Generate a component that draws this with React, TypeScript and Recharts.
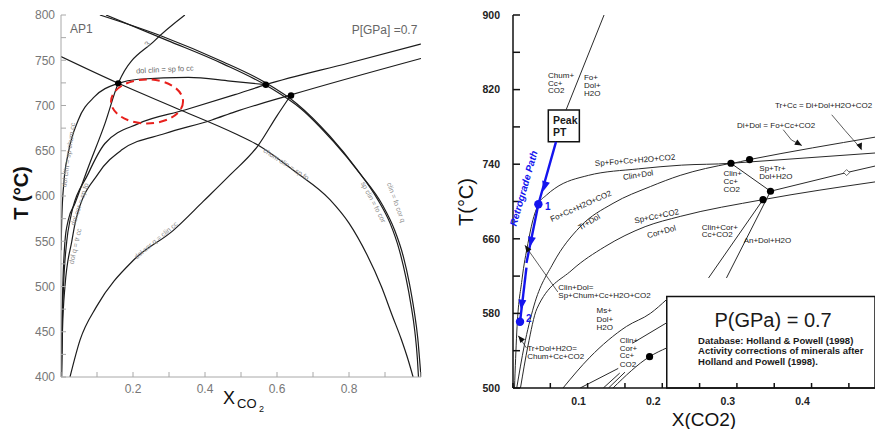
import React from 'react';
import { LineChart, Line, XAxis, YAxis, ReferenceDot, ReferenceArea, ReferenceLine } from 'recharts';

const FONT = '"Liberation Sans", Arial, Helvetica, sans-serif';

// ---------- left panel: T–XCO2 section "AP1" ----------
const leftXTicks = [0, 0.1, 0.2, 0.3, 0.4, 0.5, 0.6, 0.7, 0.8, 0.9, 1];
const leftXLabels = [0.2, 0.4, 0.6, 0.8];
const leftTTicks = [400, 425, 450, 475, 500, 525, 550, 575, 600, 625, 650, 675, 700, 725, 750, 775, 800];
const leftTLabels = [400, 450, 500, 550, 600, 650, 700, 750, 800];

// each curve: [XCO2, T]
const chumClinLine = [[0, 754], [0.159, 724.5], [0.32, 697], [0.483, 669], [0.548, 656], [0.65, 627], [0.747, 596], [0.8, 570], [0.85, 535], [0.89, 500], [0.92, 468], [0.945, 442], [0.965, 418], [0.978, 400]];
const steepLine = [[0.0005, 400], [0.002, 450], [0.005, 500], [0.011, 550], [0.02, 573], [0.039, 592], [0.076, 632], [0.122, 680], [0.159, 724.5], [0.261, 772], [0.344, 800]];
const dolClinCurve = [[0, 540], [0.002, 573], [0.008, 615], [0.02, 647], [0.048, 684], [0.094, 710], [0.159, 724.5], [0.215, 729], [0.354, 731], [0.47, 727], [0.569, 723]];
const risingCurve1 = [[0.001, 400], [0.003, 450], [0.007, 500], [0.016, 550], [0.025, 573], [0.076, 625], [0.122, 658], [0.215, 680], [0.344, 695], [0.483, 712], [0.569, 723], [0.8, 747], [1, 768]];
const risingCurve2 = [[0.002, 400], [0.004, 450], [0.011, 500], [0.03, 550], [0.041, 573], [0.104, 625], [0.169, 651], [0.289, 669], [0.419, 684], [0.483, 693], [0.641, 712], [1, 752]];
const dolCorQCurve = [[0.025, 400], [0.053, 441], [0.099, 478], [0.201, 529], [0.312, 562], [0.395, 594], [0.469, 623], [0.548, 656], [0.599, 688], [0.636, 710]];
const outerArc = [[0.108, 800], [0.284, 776], [0.44, 750], [0.569, 725], [0.655, 702], [0.747, 666], [0.821, 630], [0.88, 596], [0.914, 570], [0.94, 540], [0.958, 510], [0.972, 480], [0.983, 450], [0.99, 420], [0.993, 400]];
const innerArc = [[0.125, 800], [0.295, 772], [0.45, 746], [0.58, 720], [0.665, 697], [0.757, 660], [0.832, 624], [0.893, 590], [0.926, 563], [0.951, 533], [0.968, 503], [0.981, 473], [0.991, 443], [0.997, 415], [1, 400]];
const leftInvariantPts = [[0.159, 724.5], [0.569, 723], [0.639, 711]];

const leftCurves = [chumClinLine, steepLine, dolClinCurve, risingCurve1, risingCurve2, dolCorQCurve, outerArc, innerArc];

// ---------- right panel: T–X(CO2) section, P = 0.7 GPa ----------
const rightXTicks = [0, 0.05, 0.1, 0.15, 0.2, 0.25, 0.3, 0.35, 0.4, 0.45];
const rightXLabels = [0.1, 0.2, 0.3, 0.4];
const rightTTicks = [500, 540, 580, 620, 660, 700, 740, 780, 820, 860, 900];
const rightTLabels = [500, 580, 660, 740, 820, 900];

const chumFoLine = [[0.071, 798], [0.122, 900]];
const clinDolCurve = [[0.002, 500], [0.005, 559], [0.012, 616], [0.02, 655], [0.026, 678], [0.034, 697], [0.045, 707], [0.056, 714], [0.101, 728], [0.168, 735], [0.226, 739], [0.292, 741], [0.317, 745], [0.485, 769]];
const trDolCurve = [[0.005, 500], [0.015, 545], [0.028, 588], [0.054, 634], [0.09, 673], [0.134, 698], [0.184, 716], [0.224, 728], [0.292, 741]];
const trCcLine = [[0.292, 741], [0.485, 752]];
const corDolCurve = [[0.01, 500], [0.02, 545], [0.032, 585], [0.079, 626.5], [0.123, 651.5], [0.177, 673], [0.224, 684], [0.335, 702], [0.485, 721]];
const spTrLine = [[0.292, 741], [0.345, 711]];
const dot3Line = [[0.345, 711], [0.447, 731], [0.485, 738]];
const anDolLine = [[0.286, 618], [0.345, 711]];
const clinCorLine = [[0.262, 618], [0.335, 702]];
const msCurve = [[0.067, 500], [0.103, 533], [0.152, 566], [0.184, 580], [0.206, 595]];
const shortLineA = [[0.09, 500], [0.141, 521]];
const shortLineB = [[0.121, 500], [0.143, 516]];
const shortLineC = [[0.128, 500], [0.15, 517]];
const dotLine = [[0.134, 500], [0.183, 533.6], [0.206, 543]];
const upperShort = [[0.16, 548], [0.206, 570]];
const rightInvariantPts = [[0.292, 741], [0.317, 745], [0.345, 711], [0.335, 702], [0.183, 533.6]];

const rightCurves = [chumFoLine, clinDolCurve, trDolCurve, trCcLine, corDolCurve, spTrLine, dot3Line, anDolLine, clinCorLine, msCurve, shortLineA, shortLineB, shortLineC, dotLine, upperShort];
const straightSet = new Set([chumFoLine, trCcLine, spTrLine, dot3Line, anDolLine, clinCorLine, shortLineA, shortLineB, shortLineC, upperShort]);

// retrograde P–T path
const retroUpper = [[0.018, 634], [0.034, 697], [0.0576, 764]];
const retroLower = [[0.0094, 571], [0.018, 629]];
const retroPoints = [[0.034, 697], [0.0094, 571]];

const toPts = (rows: number[][]) => rows.map(([x, t]) => ({ x, t }));

type Note = {
  x: number; t: number; text: string; rot?: number; size?: number;
  anchor?: 'start' | 'middle' | 'end'; color?: string; bold?: boolean; italic?: boolean;
};

const GRAY = '#8a8a8a';
const leftNotes: Note[] = [
  { x: 0.025, t: 780, text: 'AP1', size: 12, color: '#666' },
  { x: 0.99, t: 779, text: 'P[GPa] =0.7', size: 12, color: '#666', anchor: 'end' },
  { x: 0.242, t: 764, text: '3', size: 8, rot: -50, color: GRAY },
  { x: 0.289, t: 737, text: 'dol clin = sp fo cc', size: 7.5, rot: -3, color: '#6a6a6a', anchor: 'middle' },
  { x: 0.027, t: 645, text: 'dol clin = sp chum cc', size: 7, rot: -82, color: GRAY, anchor: 'middle' },
  { x: 0.058, t: 590, text: 'dol cor = sp fo', size: 7, rot: -72, color: GRAY, anchor: 'middle' },
  { x: 0.046, t: 544, text: 'dol q = tr cc', size: 7, rot: -77, color: GRAY, anchor: 'middle' },
  { x: 0.268, t: 549, text: 'dol cor q = clin cc', size: 7, rot: -40, color: GRAY, anchor: 'middle' },
  { x: 0.622, t: 633, text: 'chum clin = sp fo', size: 7, rot: 33, color: GRAY, anchor: 'middle' },
  { x: 0.862, t: 592, text: 'sp clin = fo cor', size: 7, rot: 62, color: GRAY, anchor: 'middle' },
  { x: 0.925, t: 592, text: 'clin = fo cor q', size: 7, rot: 70, color: GRAY, anchor: 'middle' },
];

const INK = '#1a1a1a';
const BLUE = '#1414ee';
const rightNotes: Note[] = [
  { x: 0.047, t: 832, text: 'Chum+' }, { x: 0.047, t: 824, text: 'Cc+' }, { x: 0.047, t: 816, text: 'CO2' },
  { x: 0.095, t: 830, text: 'Fo+' }, { x: 0.095, t: 822, text: 'Dol+' }, { x: 0.095, t: 813, text: 'H2O' },
  { x: 0.0536, t: 783, text: 'Peak', size: 10.5, bold: true },
  { x: 0.0536, t: 770, text: 'PT', size: 10.5, bold: true },
  { x: 0.11, t: 738, text: 'Sp+Fo+Cc+H2O+CO2', rot: -4.5 },
  { x: 0.148, t: 723, text: 'Clin+Dol', rot: -9 },
  { x: 0.052, t: 678, text: 'Fo+Cc+H2O+CO2', rot: -24 },
  { x: 0.09, t: 669, text: 'Tr+Dol', rot: -31 },
  { x: 0.1635, t: 676.5, text: 'Sp+Cc+CO2', rot: -12 },
  { x: 0.181, t: 660.5, text: 'Cor+Dol', rot: -16 },
  { x: 0.0607, t: 605, text: 'Clin+Dol=' },
  { x: 0.0607, t: 596, text: 'Sp+Chum+Cc+H2O+CO2' },
  { x: 0.112, t: 580, text: 'Ms+' }, { x: 0.112, t: 571, text: 'Dol+' }, { x: 0.112, t: 562, text: 'H2O' },
  { x: 0.019, t: 540, text: 'Tr+Dol+H2O=' },
  { x: 0.019, t: 531, text: 'Chum+Cc+CO2' },
  { x: 0.143, t: 548, text: 'Clin+' }, { x: 0.143, t: 540, text: 'Cor+' }, { x: 0.143, t: 532, text: 'Cc+' }, { x: 0.143, t: 523, text: 'CO2' },
  { x: 0.282, t: 727, text: 'Clin+' }, { x: 0.282, t: 719, text: 'Cc+' }, { x: 0.282, t: 710, text: 'CO2' },
  { x: 0.33, t: 733, text: 'Sp+Tr+' }, { x: 0.33, t: 724, text: 'Dol+H2O' },
  { x: 0.3, t: 779, text: 'Di+Dol = Fo+Cc+CO2' },
  { x: 0.351, t: 800, text: 'Tr+Cc = Di+Dol+H2O+CO2' },
  { x: 0.253, t: 669.5, text: 'Clin+Cor+' }, { x: 0.253, t: 661.5, text: 'Cc+CO2' },
  { x: 0.309, t: 656, text: 'An+Dol+H2O' },
  { x: 0.3485, t: 565, text: 'P(GPa) = 0.7', size: 20, anchor: 'middle' },
  { x: 0.248, t: 547, text: 'Database: Holland & Powell (1998)', size: 9.5, bold: true },
  { x: 0.248, t: 536, text: 'Activity corrections of minerals after', size: 9.5, bold: true },
  { x: 0.248, t: 525, text: 'Holland and Powell (1998).', size: 9.5, bold: true },
  { x: 0.0188, t: 713, text: 'Retrograde Path', size: 10, rot: -74, color: BLUE, bold: true, italic: true, anchor: 'middle' },
  { x: 0.043, t: 691, text: '1', size: 10, color: BLUE, bold: true },
  { x: 0.0174, t: 571, text: '2', size: 10, color: BLUE, bold: true },
];

// pointer lines [x1, t1, x2, t2]
const pointerSegs = [
  [0.016, 653, 0.06, 603],
  [0.007, 556, 0.018, 543],
  [0.362, 777, 0.373, 766],
  [0.373, 766, 0.387, 760],
  [0.427, 793, 0.445, 776],
  [0.445, 776, 0.467, 756],
];
// arrowheads [x, t, angle in degrees on screen]
const blueHeads = [[0.0406, 711, 106], [0.0228, 651.5, 101], [0.0107, 584, 98]];
const blackHeads = [[0.016, 653, -125], [0.007, 556, -130], [0.387, 760, 30], [0.467, 755, 70]];

const noteShape = (n: Note) => (props: any) => (
  <text
    x={props.cx}
    y={props.cy}
    transform={n.rot ? `rotate(${n.rot} ${props.cx} ${props.cy})` : undefined}
    textAnchor={n.anchor ?? 'start'}
    fontSize={n.size ?? 8}
    fill={n.color ?? INK}
    fontFamily={FONT}
    fontWeight={n.bold ? 'bold' : 'normal'}
    fontStyle={n.italic ? 'italic' : 'normal'}
  >
    {n.text}
  </text>
);

const headShape = (angle: number, color: string, len: number, half: number) => (props: any) => (
  <polygon
    points={`0,0 ${-len},${-half} ${-len},${half}`}
    fill={color}
    transform={`translate(${props.cx} ${props.cy}) rotate(${angle})`}
  />
);

const ellipseShape = (props: any) => (
  <ellipse cx={props.cx} cy={props.cy} rx={36} ry={22} fill="none" stroke="#e8201c" strokeWidth={2} strokeDasharray="8 5" />
);

const diamondShape = (props: any) => (
  <polygon
    points={`${props.cx},${props.cy - 3} ${props.cx + 3},${props.cy} ${props.cx},${props.cy + 3} ${props.cx - 3},${props.cy}`}
    fill="#fff"
    stroke="#444"
    strokeWidth={0.8}
  />
);

const RightXTick = (props: any) => {
  const { x, y, payload } = props;
  if (!rightXLabels.includes(payload.value)) return <g />;
  return (
    <text x={x - 9} y={y} dy="0.71em" textAnchor="middle" fontSize={10.5} fontWeight="bold" fill="#222" fontFamily={FONT}>
      {payload.value}
    </text>
  );
};

export default function App() {
  const leftTick = { fill: '#777', fontSize: 12, fontFamily: FONT };
  const rightTick = { fill: '#222', fontSize: 10.5, fontWeight: 'bold', fontFamily: FONT };
  const blank = () => '';

  return (
    <div style={{ position: 'absolute', left: 0, top: 0, width: 875, height: 429, background: '#fff', overflow: 'hidden' }}>
      {/* left panel */}
      <div style={{ position: 'absolute', left: 0, top: 0 }}>
        <LineChart width={430} height={429} margin={{ top: 15, right: 9, bottom: 0, left: 0 }}>
          <XAxis dataKey="x" type="number" domain={[0, 1]} ticks={leftXTicks} interval={0} allowDataOverflow
            height={52} tickSize={-5} tickMargin={12} stroke="#a8a8a8" tick={leftTick}
            tickFormatter={(v: number) => (leftXLabels.includes(v) ? String(v) : '')} />
          <XAxis xAxisId="top" orientation="top" dataKey="x" type="number" domain={[0, 1]} ticks={leftXTicks} interval={0}
            allowDataOverflow height={0} tickSize={-5} stroke="#bdbdbd" tickFormatter={blank} />
          <YAxis type="number" domain={[400, 800]} ticks={leftTTicks} interval={0} allowDataOverflow width={61}
            tickSize={-5} tickMargin={11} stroke="#a8a8a8" tick={leftTick}
            tickFormatter={(v: number) => (leftTLabels.includes(v) ? String(v) : '')} />
          <YAxis yAxisId="right" orientation="right" type="number" domain={[400, 800]} ticks={leftTTicks} interval={0}
            allowDataOverflow width={0} tickSize={-5} stroke="#bdbdbd" tickFormatter={blank} />
          {leftCurves.map((c, i) => (
            <Line key={`l${i}`} data={toPts(c)} dataKey="t" type="monotone" stroke="#1c1c1c" strokeWidth={1.2}
              dot={false} activeDot={false} isAnimationActive={false} />
          ))}
          {leftInvariantPts.map(([x, t], i) => (
            <ReferenceDot key={`lp${i}`} x={x} y={t} r={3.2} fill="#000" stroke="none" />
          ))}
          <ReferenceDot x={0.239} y={704.5} r={0} shape={ellipseShape} />
          {leftNotes.map((n, i) => (
            <ReferenceDot key={`ln${i}`} x={n.x} y={n.t} r={0} shape={noteShape(n)} />
          ))}
        </LineChart>
      </div>

      {/* right panel */}
      <div style={{ position: 'absolute', left: 440, top: 0 }}>
        <LineChart width={435} height={429} margin={{ top: 15, right: 0, bottom: 0, left: 0 }}>
          <XAxis dataKey="x" type="number" domain={[0, 0.485]} ticks={rightXTicks} interval={0} allowDataOverflow
            height={41} tickSize={-5} tickMargin={15} stroke="#111" strokeWidth={1.5} tick={<RightXTick />} />
          <XAxis xAxisId="top" orientation="top" dataKey="x" type="number" domain={[0, 0.485]} ticks={rightXTicks}
            interval={0} allowDataOverflow height={0} tickSize={-6} stroke="#111" strokeWidth={1.5} tickFormatter={blank} />
          <YAxis type="number" domain={[500, 900]} ticks={rightTTicks} interval={0} allowDataOverflow width={73}
            tickSize={-7} tickMargin={20} stroke="#111" strokeWidth={1.5} tick={rightTick}
            tickFormatter={(v: number) => (rightTLabels.includes(v) ? String(v) : '')} />
          {rightCurves.map((c, i) => (
            <Line key={`r${i}`} data={toPts(c)} dataKey="t" type={straightSet.has(c) ? 'linear' : 'monotone'}
              stroke="#2a2a2a" strokeWidth={1} dot={false} activeDot={false} isAnimationActive={false} />
          ))}
          {[retroUpper, retroLower].map((c, i) => (
            <Line key={`b${i}`} data={toPts(c)} dataKey="t" type="linear" stroke={BLUE} strokeWidth={2.4}
              dot={false} activeDot={false} isAnimationActive={false} />
          ))}
          {pointerSegs.map(([x1, t1, x2, t2], i) => (
            <ReferenceLine key={`s${i}`} segment={[{ x: x1, y: t1 }, { x: x2, y: t2 }]} stroke="#333" strokeWidth={0.8} />
          ))}
          <ReferenceArea x1={0.0473} x2={0.0889} y1={764} y2={798} fill="#fff" fillOpacity={1} stroke="#111" strokeWidth={1.5} />
          <ReferenceArea x1={0.206} x2={0.485} y1={500} y2={598} fill="#fff" fillOpacity={1} stroke="#111" strokeWidth={1.5} />
          {rightInvariantPts.map(([x, t], i) => (
            <ReferenceDot key={`rp${i}`} x={x} y={t} r={3.6} fill="#000" stroke="none" />
          ))}
          {retroPoints.map(([x, t], i) => (
            <ReferenceDot key={`bp${i}`} x={x} y={t} r={4.2} fill={BLUE} stroke="none" />
          ))}
          {blueHeads.map(([x, t, a], i) => (
            <ReferenceDot key={`bh${i}`} x={x} y={t} r={0} shape={headShape(a, BLUE, 10, 4)} />
          ))}
          {blackHeads.map(([x, t, a], i) => (
            <ReferenceDot key={`kh${i}`} x={x} y={t} r={0} shape={headShape(a, '#111', 7, 3)} />
          ))}
          <ReferenceDot x={0.447} y={731} r={0} shape={diamondShape} />
          {rightNotes.map((n, i) => (
            <ReferenceDot key={`rn${i}`} x={n.x} y={n.t} r={0} shape={noteShape(n)} />
          ))}
        </LineChart>
      </div>

      {/* axis titles */}
      <svg width={875} height={429} style={{ position: 'absolute', left: 0, top: 0, pointerEvents: 'none' }}>
        <text x={28} y={193} transform="rotate(-90 28 193)" textAnchor="middle" fontSize={20} fontWeight="bold" fontFamily={FONT} fill="#111">
          T (°C)
        </text>
        <text x={223} y={404} fontSize={18} fontFamily={FONT} fill="#111">X</text>
        <text x={237} y={408} fontSize={13} fontFamily={FONT} fill="#111">CO</text>
        <text x={259} y={412} fontSize={9} fontFamily={FONT} fill="#111">2</text>
        <text x={473} y={202} transform="rotate(-90 473 202)" textAnchor="middle" fontSize={20} fontFamily={FONT} fill="#111">
          T(°C)
        </text>
        <text x={704} y={426} textAnchor="middle" fontSize={19} fontFamily={FONT} fill="#111">X(CO2)</text>
      </svg>
    </div>
  );
}
